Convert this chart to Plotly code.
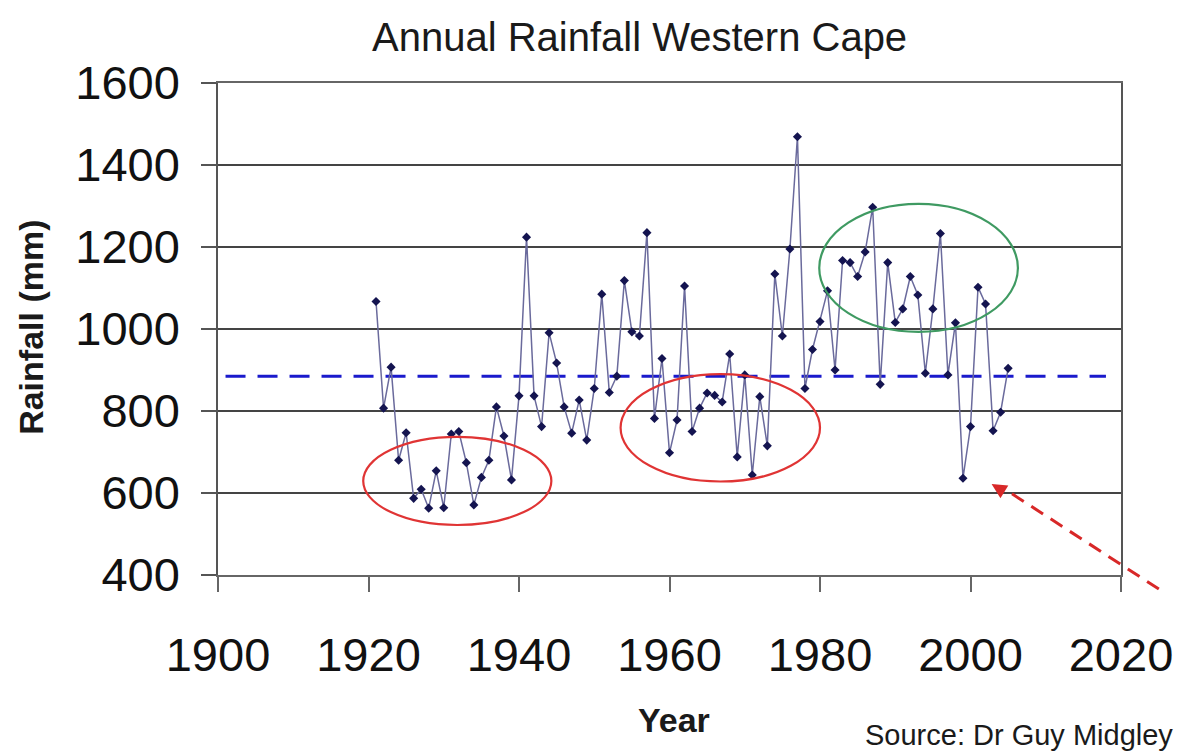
import plotly.graph_objects as go

years = list(range(1921, 2006))
rainfall = [
    1067, 807, 907, 680, 747, 587, 609, 563, 654, 564,
    744, 750, 674, 571, 638, 680, 810, 739, 632, 837,
    1224, 837, 762, 991, 917, 810, 746, 827, 729, 855,
    1085, 845, 885, 1118, 993, 983, 1235, 782, 928, 698,
    778, 1105, 750, 807, 844, 838, 822, 939, 688, 888,
    644, 835, 715, 1134, 983, 1195, 1469, 855, 950, 1018,
    1093, 900, 1167, 1162, 1128, 1188, 1297, 865, 1162, 1016,
    1049, 1128, 1083, 892, 1049, 1233, 888, 1015, 636, 762,
    1102, 1061, 752, 797, 904,
]
mean_years = [1901, 2018]
mean_rainfall = [885, 885]

x_ticks = [1900, 1920, 1940, 1960, 1980, 2000, 2020]
y_ticks = [400, 600, 800, 1000, 1200, 1400, 1600]

# highlight ellipses: (x0, x1, y0, y1, colour)
ellipses = [
    (1919.3, 1944.3, 522, 737, "#e03434"),
    (1953.5, 1980.0, 628, 890, "#e03434"),
    (1979.9, 2006.3, 993, 1305, "#3f9a62"),
]

FONT = "Liberation Sans, Arial, sans-serif"

fig = go.Figure()

fig.add_trace(go.Scatter(
    x=mean_years, y=mean_rainfall, mode="lines",
    line=dict(color="#1a1acc", width=3, dash="20px,12px"),
    hoverinfo="skip", showlegend=False,
))

fig.add_trace(go.Scatter(
    x=years, y=rainfall, mode="lines+markers",
    line=dict(color="#6a6a9c", width=1.5),
    marker=dict(symbol="diamond", size=7, color="#141450"),
    showlegend=False,
))

shapes = []
for x0, x1, y0, y1, col in ellipses:
    shapes.append(dict(type="circle", xref="x", yref="y", x0=x0, x1=x1, y0=y0, y1=y1,
                       line=dict(color=col, width=2.2)))

# dashed red arrow (paper coordinates, extends beyond plot)
shapes.append(dict(type="line", xref="paper", yref="paper",
                   x0=1.0419, y0=-0.0285, x1=0.870, y1=0.176,
                   line=dict(color="#d82828", width=3, dash="14px,9px")))

fig.update_layout(
    width=1177, height=743,
    margin=dict(l=210, r=60, t=75, b=176),
    paper_bgcolor="white", plot_bgcolor="white",
    font=dict(family=FONT, color="#111"),
    shapes=shapes,
    annotations=[
        dict(text="Annual Rainfall Western Cape", xref="paper", yref="paper",
             x=0.4664, y=1.0935, showarrow=False, font=dict(size=40, color="#1a1a1a"),
             xanchor="center", yanchor="middle"),
        dict(text="<b>Rainfall (mm)</b>", xref="paper", yref="paper",
             x=-0.2073, y=0.504, showarrow=False, textangle=-90,
             font=dict(size=34, color="#1a1a1a"), xanchor="center", yanchor="middle"),
        dict(text="<b>Year</b>", xref="paper", yref="paper",
             x=0.505, y=-0.2947, showarrow=False,
             font=dict(size=34, color="#1a1a1a"), xanchor="center", yanchor="middle"),
        dict(text="Source: Dr Guy Midgley", xref="paper", yref="paper",
             x=0.7144, y=-0.362, showarrow=False,
             font=dict(size=29, color="#1a1a1a"), xanchor="left", yanchor="bottom"),
        dict(text="", xref="paper", yref="paper", x=0.8567, y=0.185,
             ax=13, ay=8, showarrow=True, arrowhead=2, arrowsize=1,
             arrowwidth=3, arrowcolor="#d82828"),
    ],
)

fig.update_xaxes(
    range=[1900, 2020], tickvals=x_ticks, ticktext=[str(v) for v in x_ticks],
    showgrid=False, zeroline=False,
    showline=True, linecolor="#666", linewidth=1.5, mirror=True,
    ticks="outside", ticklen=15, tickwidth=1.5, tickcolor="#666",
    tickfont=dict(size=47, family=FONT, color="#111"),
    ticklabelstandoff=23,
)
fig.update_yaxes(
    range=[400, 1600], tickvals=y_ticks, ticktext=[str(v) for v in y_ticks],
    showgrid=True, gridcolor="#444", gridwidth=1.5, zeroline=False,
    showline=True, linecolor="#555", linewidth=1.5, mirror=True,
    ticks="outside", ticklen=15, tickwidth=1.5, tickcolor="#555",
    tickfont=dict(size=47, family=FONT, color="#111"),
    ticklabelstandoff=12,
)

fig.write_html("out.html")
